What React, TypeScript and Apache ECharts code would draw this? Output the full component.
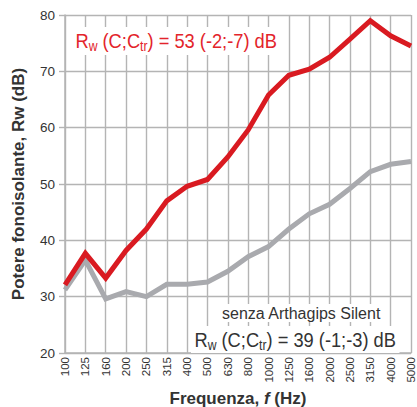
import React, { useEffect, useRef } from "react";
import * as echarts from "echarts";

const frequencies = ["100", "125", "160", "200", "250", "315", "400", "500", "630", "800", "1000", "1250", "1600", "2000", "2500", "3150", "4000", "5000"];
const withSilent = [32.1, 37.7, 33.3, 38.2, 42.0, 47.0, 49.6, 50.8, 54.8, 59.6, 65.8, 69.3, 70.4, 72.5, 75.7, 79.0, 76.3, 74.5];
const withoutSilent = [31.2, 36.5, 29.6, 30.9, 30.0, 32.2, 32.2, 32.6, 34.5, 37.1, 38.9, 42.0, 44.7, 46.4, 49.2, 52.2, 53.5, 54.0];
const yMin = 20;
const yMax = 80;
const yStep = 10;

const FONT = "'Liberation Sans', Arial, Helvetica, sans-serif";
const RED = "#d91a21";
const RED_TEXT = "#e3242b";
const GRAY = "#a9aaae";
const GRID = "#b4b4b4";
const TEXT = "#333333";

export default function App() {
  const ref = useRef<HTMLDivElement>(null);
  useEffect(() => {
    if (!ref.current) return;
    const chart = echarts.init(ref.current, null, { renderer: "svg" });
    const richBig = (fill: string) => ({
      a: { fontSize: 21, fontFamily: FONT, fill, lineHeight: 24 },
      b: { fontSize: 14, fontFamily: FONT, fill, lineHeight: 14, verticalAlign: "bottom" },
    });
    chart.setOption({
      animation: false,
      grid: { left: 65, right: 6, top: 15, bottom: 54, containLabel: false, outerBoundsMode: "none" },
      xAxis: {
        type: "category",
        data: frequencies,
        boundaryGap: false,
        axisLine: { show: true, lineStyle: { color: GRID, width: 1.5 } },
        axisTick: { show: false },
        axisLabel: { rotate: 90, interval: 0, fontSize: 11.5, color: TEXT, fontFamily: FONT, margin: 4, hideOverlap: false },
        splitLine: { show: true, interval: 0, lineStyle: { color: GRID, width: 1.4 } },
        name: "Frequenza, {i|f} (Hz)",
        nameLocation: "middle",
        nameGap: 35,
        nameTextStyle: {
          fontSize: 17,
          fontWeight: "bold",
          color: TEXT,
          fontFamily: FONT,
          rich: { i: { fontSize: 17, fontWeight: "bold", fontStyle: "italic", color: TEXT, fontFamily: FONT } },
        },
      },
      yAxis: {
        type: "value",
        min: yMin,
        max: yMax,
        interval: yStep,
        axisLine: { show: true, lineStyle: { color: GRID, width: 1.5 } },
        axisTick: { show: true, length: 6, lineStyle: { color: GRID, width: 1.4 } },
        axisLabel: { fontSize: 13.5, color: TEXT, fontFamily: FONT, margin: 10 },
        splitLine: { show: true, lineStyle: { color: GRID, width: 1.4 } },
        name: "Potere fonoisolante, Rw (dB)",
        nameLocation: "middle",
        nameGap: 38,
        nameTextStyle: { fontSize: 17, fontWeight: "bold", color: TEXT, fontFamily: FONT },
      },
      series: [
        {
          type: "line",
          data: withoutSilent,
          symbol: "none",
          lineStyle: { color: GRAY, width: 5, join: "miter" },
          z: 2,
        },
        {
          type: "line",
          data: withSilent,
          symbol: "none",
          lineStyle: { color: RED, width: 5, join: "miter" },
          z: 3,
        },
      ],
      graphic: [
        {
          type: "text",
          x: 72,
          y: 27,
          scaleX: 0.87,
          z: 100,
          style: {
            text: "{a|R}{b|w}{a| (C;C}{b|tr}{a|) = 53 (-2;-7) dB}",
            rich: richBig(RED_TEXT),
            backgroundColor: "#ffffff",
            padding: [2, 4, 2, 4],
          },
        },
        {
          type: "text",
          x: 218,
          y: 304,
          z: 100,
          style: {
            text: "senza Arthagips Silent",
            fontSize: 16,
            fontFamily: FONT,
            fill: TEXT,
            backgroundColor: "#ffffff",
            padding: [1, 4, 1, 4],
          },
        },
        {
          type: "text",
          x: 191,
          y: 326,
          scaleX: 0.87,
          z: 100,
          style: {
            text: "{a|R}{b|w}{a| (C;C}{b|tr}{a|) = 39 (-1;-3) dB}",
            rich: richBig(TEXT),
            backgroundColor: "#ffffff",
            padding: [2, 4, 1, 4],
          },
        },
      ],
    });
    return () => chart.dispose();
  }, []);
  return <div ref={ref} style={{ position: "absolute", left: 0, top: 0, width: 417, height: 407 }} />;
}
